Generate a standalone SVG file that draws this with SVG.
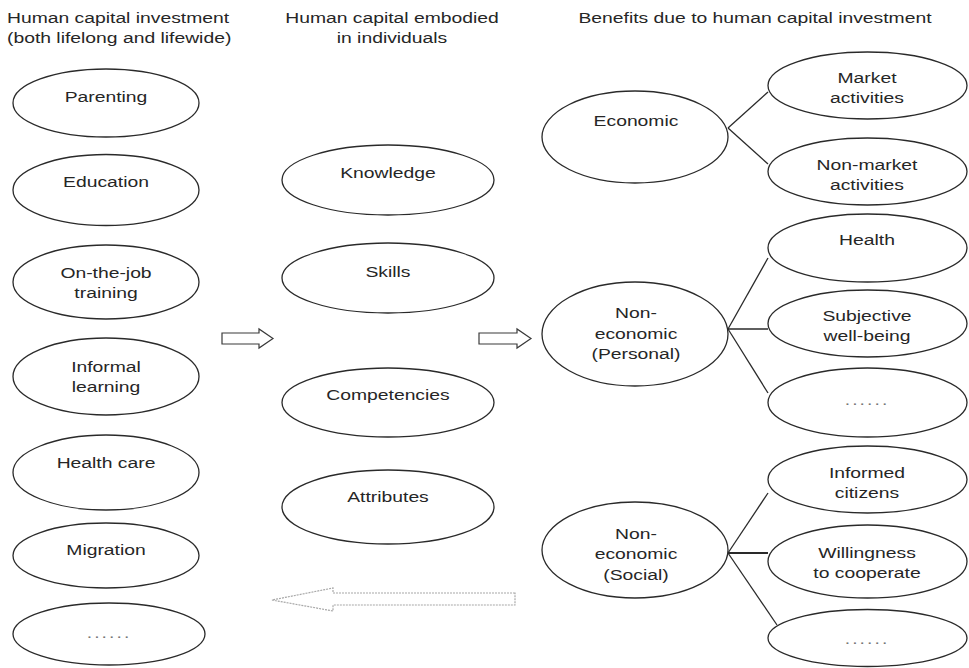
<svg xmlns="http://www.w3.org/2000/svg" width="969" height="668" viewBox="0 0 969 668">
<style>
  .bg { fill: #ffffff; }
  .node ellipse { fill: #ffffff; stroke: #2a2a2a; stroke-width: 1.3; }
  text { font-family: "Liberation Sans", Arial, sans-serif; font-size: 14px; fill: #262626; }
  .c { text-anchor: middle; }
  .h { text-anchor: start; }
  .dots { fill: #777; letter-spacing: 1.5px; }
  .conn line { stroke: #2a2a2a; stroke-width: 1.3; }
  .block { fill: #ffffff; stroke: #3a3a3a; stroke-width: 1.2; }
  .ghost { fill: #ffffff; stroke: #a8a8a8; stroke-width: 1.2; stroke-dasharray: 2 1; }
</style>
<rect class="bg" x="0" y="0" width="969" height="668"/>

<!-- Column headings -->
<g id="heading-left">
  <text class="h" transform="translate(7,0) scale(1.38,1)"><tspan x="0" y="23">Human capital investment</tspan><tspan x="0" y="43">(both lifelong and lifewide)</tspan></text>
</g>
<g id="heading-middle">
  <text class="c" transform="translate(392,0) scale(1.38,1)"><tspan x="0" y="23">Human capital embodied</tspan><tspan x="0" y="43">in individuals</tspan></text>
</g>
<g id="heading-right">
  <text class="c" transform="translate(755,0) scale(1.38,1)"><tspan x="0" y="23">Benefits due to human capital investment</tspan></text>
</g>

<!-- Connectors -->
<g id="connectors" class="conn">
  <line x1="728" y1="128" x2="768" y2="92"/>
  <line x1="728" y1="128" x2="768" y2="164"/>
  <line x1="728" y1="329" x2="768" y2="258"/>
  <line x1="728" y1="329" x2="768" y2="329"/>
  <line x1="728" y1="329" x2="768" y2="393"/>
  <line x1="728" y1="553" x2="768" y2="493"/>
  <line x1="728" y1="553" x2="768" y2="553" style="stroke-width:2.2"/>
  <line x1="728" y1="553" x2="777" y2="625"/>
  <polygon id="arrow-invest-to-embodied" class="block" points="222,333 259,333 259,329 273,338.5 259,348 259,344 222,344"/>
  <polygon id="arrow-embodied-to-benefits" class="block" points="479,333 517,333 517,329 531,338.5 517,348 517,344 479,344"/>
  <polygon id="arrow-feedback" class="ghost" points="515,593 333,593 333,588 272,600 333,611 333,605 515,605"/>
</g>

<!-- Left column: investment -->
<g id="n-parenting" class="node">
  <ellipse cx="106" cy="103" rx="93" ry="34"/>
  <text class="c" transform="translate(106,0) scale(1.38,1)"><tspan x="0" y="102">Parenting</tspan></text>
</g>
<g id="n-education" class="node">
  <ellipse cx="106" cy="190" rx="93" ry="35.5"/>
  <text class="c" transform="translate(106,0) scale(1.38,1)"><tspan x="0" y="187">Education</tspan></text>
</g>
<g id="n-onthejob" class="node">
  <ellipse cx="106" cy="282" rx="93" ry="37"/>
  <text class="c" transform="translate(106,0) scale(1.38,1)"><tspan x="0" y="278">On-the-job</tspan><tspan x="0" y="298">training</tspan></text>
</g>
<g id="n-informal" class="node">
  <ellipse cx="106" cy="376.5" rx="93" ry="38.5"/>
  <text class="c" transform="translate(106,0) scale(1.38,1)"><tspan x="0" y="372">Informal</tspan><tspan x="0" y="392">learning</tspan></text>
</g>
<g id="n-healthcare" class="node">
  <ellipse cx="106" cy="472.5" rx="93" ry="37.5"/>
  <text class="c" transform="translate(106,0) scale(1.38,1)"><tspan x="0" y="468">Health care</tspan></text>
</g>
<g id="n-migration" class="node">
  <ellipse cx="106" cy="555.5" rx="93" ry="32.5"/>
  <text class="c" transform="translate(106,0) scale(1.38,1)"><tspan x="0" y="555">Migration</tspan></text>
</g>
<g id="n-invest-more" class="node">
  <ellipse cx="109" cy="634" rx="96" ry="31"/>
  <text class="c dots" transform="translate(109,0) scale(1.38,1)"><tspan x="0" y="638">......</tspan></text>
</g>

<!-- Middle column: embodied -->
<g id="n-knowledge" class="node">
  <ellipse cx="388" cy="180" rx="106" ry="35"/>
  <text class="c" transform="translate(388,0) scale(1.38,1)"><tspan x="0" y="178">Knowledge</tspan></text>
</g>
<g id="n-skills" class="node">
  <ellipse cx="388" cy="278" rx="106" ry="35"/>
  <text class="c" transform="translate(388,0) scale(1.38,1)"><tspan x="0" y="277">Skills</tspan></text>
</g>
<g id="n-competencies" class="node">
  <ellipse cx="388" cy="402.5" rx="106" ry="34.5"/>
  <text class="c" transform="translate(388,0) scale(1.38,1)"><tspan x="0" y="400">Competencies</tspan></text>
</g>
<g id="n-attributes" class="node">
  <ellipse cx="388" cy="507" rx="106" ry="37"/>
  <text class="c" transform="translate(388,0) scale(1.38,1)"><tspan x="0" y="502">Attributes</tspan></text>
</g>

<!-- Right column: benefits -->
<g id="n-economic" class="node">
  <ellipse cx="635" cy="137" rx="93" ry="46"/>
  <text class="c" transform="translate(636,0) scale(1.38,1)"><tspan x="0" y="126">Economic</tspan></text>
</g>
<g id="n-personal" class="node">
  <ellipse cx="635" cy="334" rx="93" ry="52"/>
  <text class="c" transform="translate(636,0) scale(1.38,1)"><tspan x="0" y="318">Non-</tspan><tspan x="0" y="339">economic</tspan><tspan x="0" y="359">(Personal)</tspan></text>
</g>
<g id="n-social" class="node">
  <ellipse cx="635" cy="550" rx="93" ry="48"/>
  <text class="c" transform="translate(636,0) scale(1.38,1)"><tspan x="0" y="539">Non-</tspan><tspan x="0" y="559">economic</tspan><tspan x="0" y="580">(Social)</tspan></text>
</g>
<g id="n-market" class="node">
  <ellipse cx="867.5" cy="85.5" rx="99.5" ry="33.5"/>
  <text class="c" transform="translate(867,0) scale(1.38,1)"><tspan x="0" y="83">Market</tspan><tspan x="0" y="103">activities</tspan></text>
</g>
<g id="n-nonmarket" class="node">
  <ellipse cx="867.5" cy="171.5" rx="99.5" ry="33.5"/>
  <text class="c" transform="translate(867,0) scale(1.38,1)"><tspan x="0" y="170">Non-market</tspan><tspan x="0" y="190">activities</tspan></text>
</g>
<g id="n-health" class="node">
  <ellipse cx="867.5" cy="248" rx="99.5" ry="34"/>
  <text class="c" transform="translate(867,0) scale(1.38,1)"><tspan x="0" y="245">Health</tspan></text>
</g>
<g id="n-wellbeing" class="node">
  <ellipse cx="867.5" cy="323.5" rx="99.5" ry="33.5"/>
  <text class="c" transform="translate(867,0) scale(1.38,1)"><tspan x="0" y="321">Subjective</tspan><tspan x="0" y="341">well-being</tspan></text>
</g>
<g id="n-personal-more" class="node">
  <ellipse cx="867.5" cy="402.5" rx="99.5" ry="34.5"/>
  <text class="c dots" transform="translate(867,0) scale(1.38,1)"><tspan x="0" y="405">......</tspan></text>
</g>
<g id="n-informed" class="node">
  <ellipse cx="867.5" cy="479.5" rx="99.5" ry="33.5"/>
  <text class="c" transform="translate(867,0) scale(1.38,1)"><tspan x="0" y="478">Informed</tspan><tspan x="0" y="498">citizens</tspan></text>
</g>
<g id="n-cooperate" class="node">
  <ellipse cx="867.5" cy="561.5" rx="99.5" ry="36.5"/>
  <text class="c" transform="translate(867,0) scale(1.38,1)"><tspan x="0" y="558">Willingness</tspan><tspan x="0" y="578">to cooperate</tspan></text>
</g>
<g id="n-social-more" class="node">
  <ellipse cx="867.5" cy="638" rx="99.5" ry="28.5"/>
  <text class="c dots" transform="translate(867,0) scale(1.38,1)"><tspan x="0" y="644">......</tspan></text>
</g>
</svg>
